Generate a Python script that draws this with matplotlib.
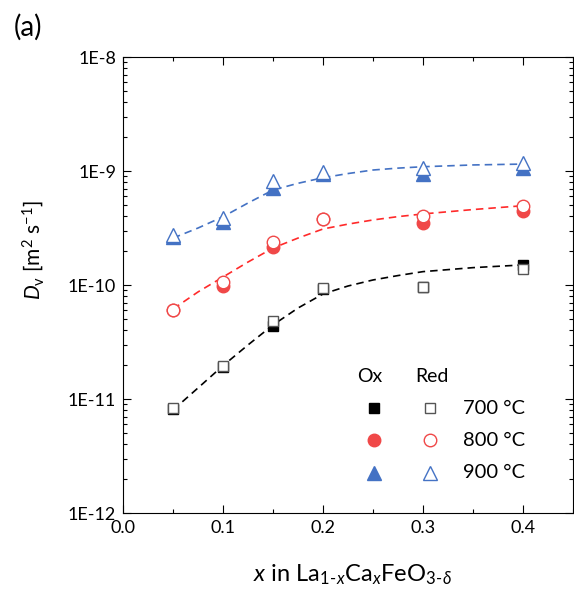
import matplotlib
matplotlib.use("Agg")
import matplotlib.pyplot as plt
from matplotlib.lines import Line2D
import matplotlib.ticker as mticker

plt.rcParams['font.family'] = ['Lato', 'DejaVu Sans']
plt.rcParams['mathtext.fontset'] = 'custom'
plt.rcParams['mathtext.rm'] = 'Lato'
plt.rcParams['mathtext.it'] = 'Lato:italic'

x = [0.05, 0.10, 0.15, 0.20, 0.30, 0.40]

ox_700 = [8.2e-12, 1.9e-11, 4.35e-11, 9.2e-11, 9.7e-11, 1.5e-10]
red_700 = [8.3e-12, 1.95e-11, 4.8e-11, 9.4e-11, 9.7e-11, 1.38e-10]
ox_800 = [6.0e-11, 9.8e-11, 2.15e-10, 3.8e-10, 3.5e-10, 4.5e-10]
red_800 = [6.0e-11, 1.07e-10, 2.4e-10, 3.8e-10, 4.05e-10, 4.9e-10]
ox_900 = [2.65e-10, 3.6e-10, 7.1e-10, 9.4e-10, 9.4e-10, 1.07e-9]
red_900 = [2.75e-10, 3.9e-10, 8.1e-10, 9.8e-10, 1.07e-9, 1.17e-9]

fit_x = [0.05, 0.075, 0.10, 0.125, 0.15, 0.175, 0.20, 0.225, 0.25, 0.275, 0.30, 0.35, 0.40]
fit_700 = [8.0e-12, 1.25e-11, 1.96e-11, 2.98e-11, 4.46e-11, 6.28e-11, 8.34e-11, 9.8e-11,
           1.107e-10, 1.21e-10, 1.31e-10, 1.42e-10, 1.50e-10]
fit_800 = [6.15e-11, 8.69e-11, 1.175e-10, 1.59e-10, 2.11e-10, 2.58e-10, 3.10e-10, 3.42e-10,
           3.72e-10, 3.98e-10, 4.20e-10, 4.59e-10, 4.96e-10]
fit_900 = [2.58e-10, 3.16e-10, 3.97e-10, 5.24e-10, 6.81e-10, 7.80e-10, 8.73e-10, 9.5e-10,
           1.02e-9, 1.06e-9, 1.09e-9, 1.13e-9, 1.15e-9]

temps = ['700 °C', '800 °C', '900 °C']

C_BLACK = '#000000'
C_GRAY = '#555555'
C_RED = '#F04848'
C_REDLINE = '#FF2A2A'
C_BLUE = '#4472C4'

W, H = 574, 593
fig = plt.figure(figsize=(W / 100, H / 100), dpi=100)
ax = fig.add_axes([123 / W, 1 - 513 / H, 450 / W, 456 / H])

dash = (0, (4.5, 3.0))
ax.plot(fit_x, fit_700, color=C_BLACK, lw=1.2, linestyle=dash, zorder=2)
ax.plot(fit_x, fit_800, color=C_REDLINE, lw=1.2, linestyle=dash, zorder=2)
ax.plot(fit_x, fit_900, color=C_BLUE, lw=1.2, linestyle=dash, zorder=2)

ax.plot(x, ox_700, 's', color=C_BLACK, ms=7.5, lw=0, zorder=3)
ax.plot(x, ox_800, 'o', color=C_RED, ms=9, lw=0, zorder=3)
ax.plot(x, ox_900, '^', color=C_BLUE, ms=10, lw=0, zorder=3)
ax.plot(x, red_700, 's', mfc='white', mec=C_GRAY, mew=1.0, ms=7.5, lw=0, zorder=4)
ax.plot(x, red_800, 'o', mfc='white', mec=C_RED, mew=1.0, ms=9, lw=0, zorder=4)
ax.plot(x, red_900, '^', mfc='white', mec=C_BLUE, mew=1.0, ms=10, lw=0, zorder=4)

ax.set_yscale('log')
ax.set_ylim(1e-12, 1e-8)
ax.set_xlim(0.0, 0.45)
ax.set_xticks([0.0, 0.1, 0.2, 0.3, 0.4])
ax.set_xticklabels(['0.0', '0.1', '0.2', '0.3', '0.4'])
ax.xaxis.set_minor_locator(mticker.MultipleLocator(0.05))
ax.set_yticks([1e-12, 1e-11, 1e-10, 1e-9, 1e-8])
ax.set_yticklabels(['1E-12', '1E-11', '1E-10', '1E-9', '1E-8'])
ax.yaxis.set_minor_locator(mticker.LogLocator(base=10, subs=range(2, 10), numticks=20))
ax.yaxis.set_minor_formatter(mticker.NullFormatter())
ax.tick_params(which='both', direction='in', top=True, right=True, labelsize=13, width=0.8)
ax.tick_params(which='major', length=6, pad=5)
ax.tick_params(which='minor', length=3)
for s in ax.spines.values():
    s.set_linewidth(0.8)

# custom legend
def px(xp, yp):
    return (xp / W, 1 - yp / H)

fig.text(*px(370, 377), 'Ox', fontsize=14, ha='center', va='center')
fig.text(*px(432, 377), 'Red', fontsize=14, ha='center', va='center')
rows = [408, 440, 473]
ox_style = [dict(marker='s', color=C_BLACK, ms=7.5),
            dict(marker='o', color=C_RED, ms=9),
            dict(marker='^', color=C_BLUE, ms=10)]
red_style = [dict(marker='s', mfc='white', mec=C_GRAY, ms=7.5),
             dict(marker='o', mfc='white', mec=C_RED, ms=9),
             dict(marker='^', mfc='white', mec=C_BLUE, ms=10)]
for yp, t, so, sr in zip(rows, temps, ox_style, red_style):
    xf, yf = px(374, yp)
    fig.add_artist(Line2D([xf], [yf], lw=0, transform=fig.transFigure, **so))
    xf, yf = px(430, yp)
    fig.add_artist(Line2D([xf], [yf], lw=0, mew=1.0, transform=fig.transFigure, **sr))
    fig.text(*px(463, yp), t, fontsize=14.5, ha='left', va='center')

fig.text(*px(33, 250), r'$D$$_\mathregular{v}$ [m$^\mathregular{2}$ s$^\mathregular{-1}$]',
         fontsize=15, rotation=90, ha='center', va='center')
fig.text(*px(352, 575), r'$x$ in La$_\mathregular{1\text{-}}$$_x$Ca$_x$FeO$_\mathregular{3\text{-}}$$_\delta$',
         fontsize=17, ha='center', va='center')
fig.text(*px(28, 27), '(a)', fontsize=20, ha='center', va='center')

fig.savefig('out.png', dpi=100)
